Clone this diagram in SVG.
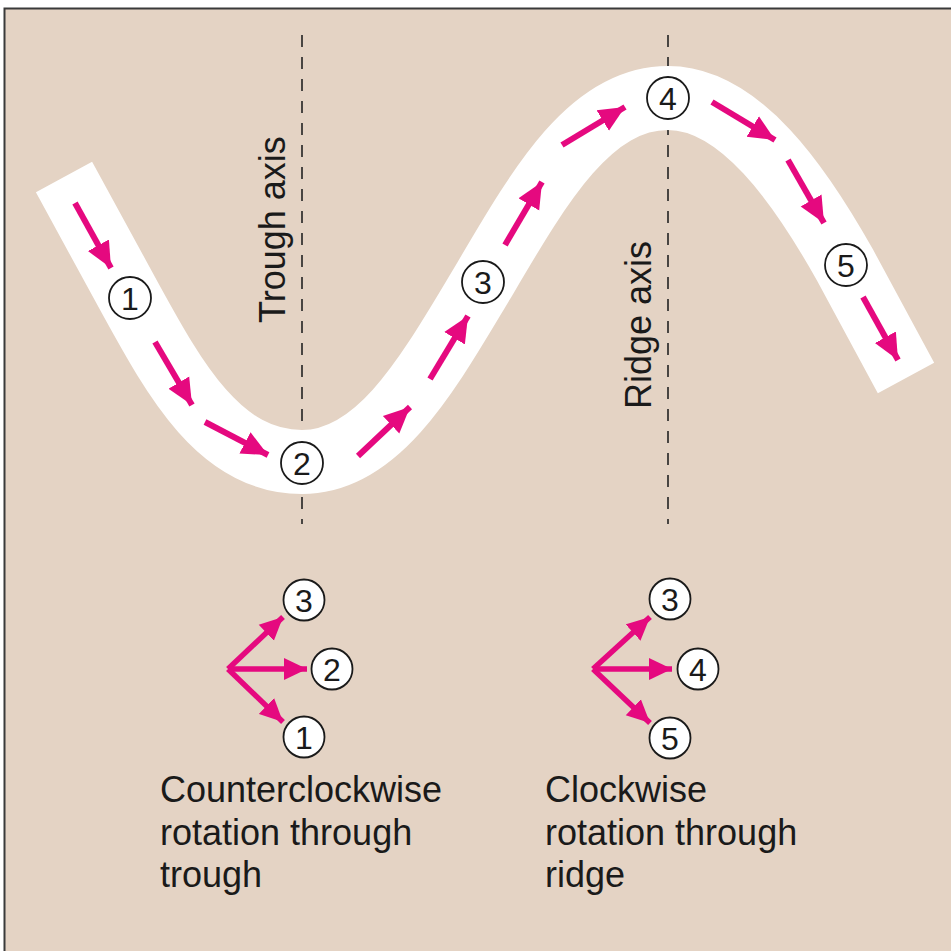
<svg xmlns="http://www.w3.org/2000/svg" width="951" height="951" viewBox="0 0 951 951">
<defs>
<style>
.bg{fill:#E4D3C4;stroke:#3a3a3a;stroke-width:2}
.axis{stroke:#222;stroke-width:1.6;stroke-dasharray:12 10;fill:none}
.band{fill:none;stroke:#fff;stroke-width:64;stroke-linecap:butt;stroke-linejoin:round}
.arr{stroke:#E5097F;stroke-width:6;fill:none;marker-end:url(#ah)}
.arr2{stroke:#E5097F;stroke-width:5.5;fill:none;marker-end:url(#ah2)}
.circ{fill:#fff;stroke:#1a1a1a;stroke-width:1.8}
.num{font-family:"Liberation Sans",Arial,sans-serif;font-size:32px;fill:#1a1a1a;text-anchor:middle}
.lbl{font-family:"Liberation Sans",Arial,sans-serif;font-size:36px;fill:#1a1a1a}
</style>
<marker id="ah" markerUnits="userSpaceOnUse" markerWidth="26" markerHeight="26" viewBox="0 0 26 26" refX="26" refY="13" orient="auto">
<path d="M0,1 L26,13 L0,25 Z" fill="#E5097F"/>
</marker>
<marker id="ah2" markerUnits="userSpaceOnUse" markerWidth="23" markerHeight="23" viewBox="0 0 23 23" refX="23" refY="11.5" orient="auto">
<path d="M0,0.5 L23,11.5 L0,22.5 Z" fill="#E5097F"/>
</marker>
</defs>
<rect x="0" y="0" width="951" height="951" fill="#fff"/>
<rect class="bg" x="4.5" y="8.5" width="960" height="960"/>
<g id="axes">
<line class="axis" x1="302" y1="35" x2="302" y2="524"/>
<line class="axis" x1="668" y1="35" x2="668" y2="524"/>
</g>
<g id="band">
<path class="band" d="M64,177 L130,298 C175,380 220,462 302,462 C380,462 430,370 483,282 C540,185 590,98 668,98 C740,98 800,185 845,265 L906,378"/>
</g>
<g id="connectors">
<line class="arr" x1="75" y1="203" x2="111" y2="268"/>
<line class="arr" x1="155" y1="342" x2="192" y2="405"/>
<line class="arr" x1="205" y1="422" x2="268" y2="455"/>
<line class="arr" x1="358" y1="456" x2="410" y2="407"/>
<line class="arr" x1="430" y1="379" x2="468" y2="316"/>
<line class="arr" x1="505" y1="245" x2="542" y2="182"/>
<line class="arr" x1="562" y1="145" x2="625" y2="107"/>
<line class="arr" x1="712" y1="102" x2="775" y2="140"/>
<line class="arr" x1="788" y1="160" x2="824" y2="223"/>
<line class="arr" x1="863" y1="297" x2="898" y2="360"/>
<line class="arr2" x1="228" y1="669" x2="283" y2="617"/>
<line class="arr2" x1="228" y1="669" x2="307" y2="669"/>
<line class="arr2" x1="228" y1="669" x2="283" y2="722"/>
<line class="arr2" x1="593" y1="669" x2="650" y2="617"/>
<line class="arr2" x1="593" y1="669" x2="672" y2="669"/>
<line class="arr2" x1="593" y1="669" x2="650" y2="723"/>
</g>
<g id="n1"><circle class="circ" cx="130" cy="298" r="21"/><text class="num" x="130" y="309.5">1</text></g>
<g id="n2"><circle class="circ" cx="302" cy="463" r="21"/><text class="num" x="302" y="474.5">2</text></g>
<g id="n3"><circle class="circ" cx="483" cy="282" r="21"/><text class="num" x="483" y="293.5">3</text></g>
<g id="n4"><circle class="circ" cx="668" cy="98" r="21"/><text class="num" x="668" y="109.5">4</text></g>
<g id="n5"><circle class="circ" cx="846" cy="265" r="21"/><text class="num" x="846" y="276.5">5</text></g>
<g id="t3"><circle class="circ" cx="304" cy="600" r="20.5"/><text class="num" x="304" y="611.5">3</text></g>
<g id="t2"><circle class="circ" cx="332" cy="669" r="20.5"/><text class="num" x="332" y="680.5">2</text></g>
<g id="t1"><circle class="circ" cx="304" cy="737" r="20.5"/><text class="num" x="304" y="748.5">1</text></g>
<g id="r3"><circle class="circ" cx="670" cy="599" r="20.5"/><text class="num" x="670" y="610.5">3</text></g>
<g id="r4"><circle class="circ" cx="698" cy="669" r="20.5"/><text class="num" x="698" y="680.5">4</text></g>
<g id="r5"><circle class="circ" cx="670" cy="738" r="20.5"/><text class="num" x="670" y="749.5">5</text></g>
<g id="labels">
<text class="lbl" transform="translate(285,323) rotate(-90)">Trough axis</text>
<text class="lbl" transform="translate(651,409) rotate(-90)">Ridge axis</text>
<text class="lbl" x="160" y="802">Counterclockwise</text>
<text class="lbl" x="160" y="845">rotation through</text>
<text class="lbl" x="160" y="887">trough</text>
<text class="lbl" x="545" y="802">Clockwise</text>
<text class="lbl" x="545" y="845">rotation through</text>
<text class="lbl" x="545" y="887">ridge</text>
</g>
</svg>
